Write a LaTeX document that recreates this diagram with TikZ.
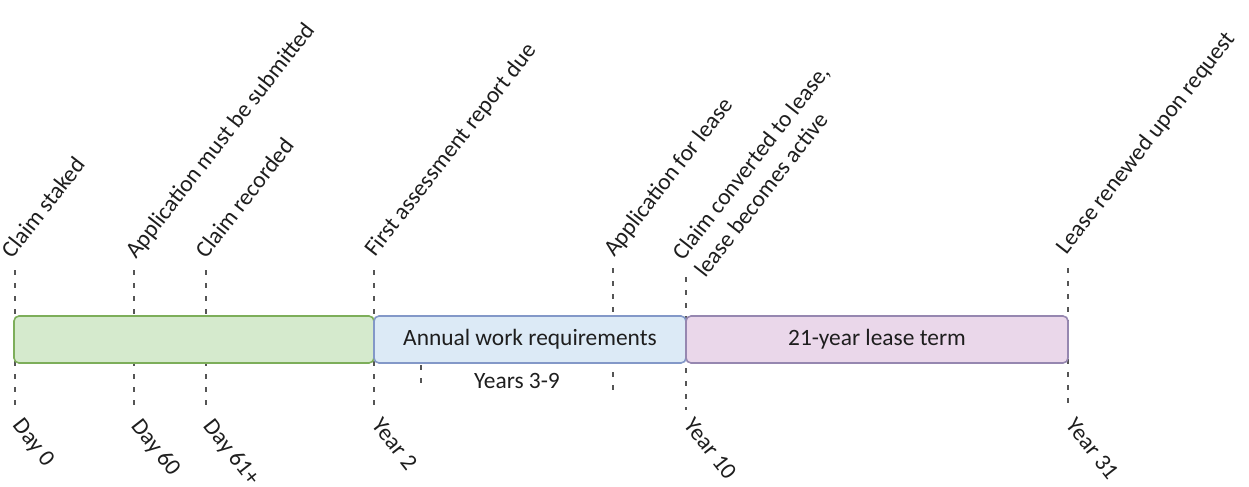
\documentclass[tikz,border=0pt]{standalone}
\usepackage{fontspec}
\setmainfont{Carlito}
\definecolor{greenfill}{HTML}{D5EACD}
\definecolor{greenline}{HTML}{7DAE5A}
\definecolor{bluefill}{HTML}{DCEAF6}
\definecolor{blueline}{HTML}{8398C8}
\definecolor{pinkfill}{HTML}{EAD7EA}
\definecolor{pinkline}{HTML}{9687B0}
\definecolor{txt}{HTML}{1E1E1E}
\definecolor{tickcol}{HTML}{555555}
\begin{document}
\begin{tikzpicture}[x=0.5pt,y=-0.5pt,
  font=\fontsize{11.7}{14}\selectfont,
  seg/.style={draw, line width=0.8pt, rounded corners=2.5pt, minimum height=23.5pt, inner sep=0pt, text=txt},
  tickline/.style={draw=tickcol, line width=0.6pt, dash pattern=on 2.5pt off 4pt},
  toplab/.style={rotate=52, anchor=base west, inner sep=0pt, text=txt},
  botlab/.style={rotate=-52, anchor=north west, inner sep=0pt, text=txt}]
\useasboundingbox (0,0) rectangle (1249,487);
% tick coordinates
\coordinate (t1) at (15,270);   \coordinate (b1) at (15,410);
\coordinate (t2) at (134,270);  \coordinate (b2) at (134,410);
\coordinate (t3) at (206,270);  \coordinate (b3) at (206,410);
\coordinate (t4) at (374,270);  \coordinate (b4) at (374,410);
\coordinate (t5) at (613,268);  \coordinate (b5) at (613,390);
\coordinate (t6) at (686,277);  \coordinate (b6) at (686,410);
\coordinate (t7) at (1068,268); \coordinate (b7) at (1068,410);
\coordinate (y1) at (421,365);  \coordinate (y2) at (421,390);
\foreach \i in {1,...,7} {\draw[tickline] (t\i) -- (b\i);}
\draw[tickline] (y1) -- (y2);
% bar segments
\node[seg, fill=greenfill, draw=greenline, minimum width=180pt] (phase1) at (194,339.5) {};
\node[seg, fill=bluefill, draw=blueline, minimum width=156pt] (phase2) at (530,339.5) {Annual work requirements};
\node[seg, fill=pinkfill, draw=pinkline, minimum width=191pt] (phase3) at (877,339.5) {21-year lease term};
\node[inner sep=0pt, text=txt] (yrs) at (517,381) {Years 3-9};
% top labels
\node[toplab] (l1) at (12,260) {Claim staked};
\node[toplab] (l2) at (136,260) {Application must be submitted};
\node[toplab] (l3) at (206,260) {Claim recorded};
\node[toplab] (l4) at (375,258) {First assessment report due};
\node[toplab] (l5) at (614,258) {Application for lease};
\node[toplab, align=left] (l6) at (705,279) {Claim converted to lease,\\lease becomes active};
\node[toplab] (l7) at (1066,256) {Lease renewed upon request};
% bottom labels
\node[botlab] (d1) at (24,416) {Day 0};
\node[botlab] (d2) at (143,416) {Day 60};
\node[botlab] (d3) at (215,416) {Day 61+};
\node[botlab] (d4) at (383,416) {Year 2};
\node[botlab] (d5) at (695,416) {Year 10};
\node[botlab] (d6) at (1077,416) {Year 31};
\end{tikzpicture}
\end{document}
